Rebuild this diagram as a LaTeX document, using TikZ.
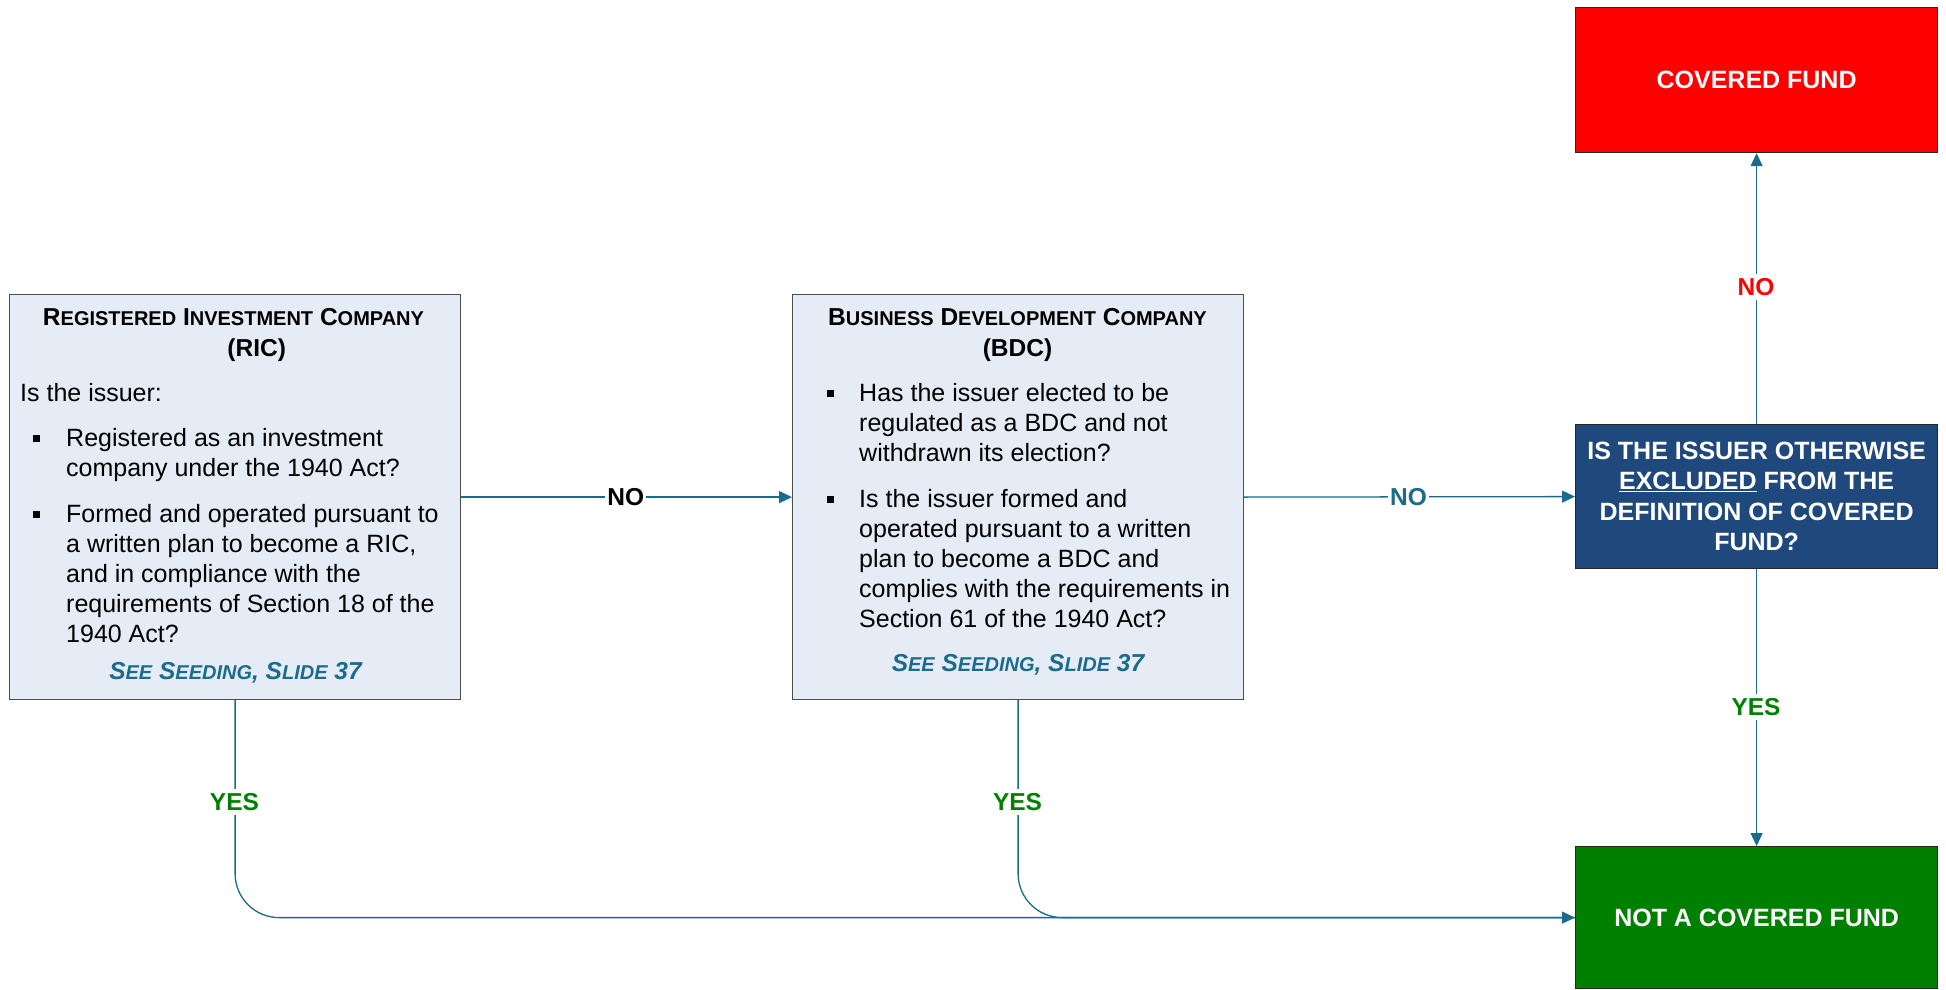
\documentclass[tikz,border=0pt]{standalone}
\usepackage{fontspec}
\setmainfont{Liberation Sans}
\usetikzlibrary{arrows.meta}
\definecolor{tealc}{HTML}{1A6B8C}
\definecolor{boxfill}{HTML}{E5ECF6}
\definecolor{boxline}{HTML}{4D4D4D}
\definecolor{darkblue}{HTML}{1F497D}
\definecolor{okgreen}{HTML}{008000}
\newcommand\fsc[1]{{\fontsize{20}{24}\selectfont #1}}
\tikzset{
  bx/.style={draw=boxline, line width=1.2pt, fill=boxfill, anchor=north west, inner sep=0pt},
  outbox/.style={draw=black!85, line width=1.2pt, anchor=north west, inner sep=0pt, text=white,
    font=\bfseries\fontsize{25}{30.5}\selectfont, align=center},
  txt/.style={anchor=base west, inner sep=0pt, font=\fontsize{25}{30}\selectfont},
  head/.style={anchor=base, inner sep=0pt, font=\bfseries\fontsize{24.5}{30}\selectfont},
  seeref/.style={anchor=base, inner sep=0pt, text=tealc, font=\bfseries\itshape\fontsize{24.5}{30}\selectfont},
  sq/.style={fill=black, minimum size=7pt, inner sep=0pt},
  arr/.style={draw=tealc, line width=1.3pt, -{Triangle[length=13pt,width=12pt]}},
  conn/.style={draw=tealc, line width=1.3pt},
  lbl/.style={fill=white, inner xsep=2pt, inner ysep=4pt, font=\bfseries\fontsize{24.5}{28}\selectfont}
}
\begin{document}
\begin{tikzpicture}[x=1pt,y=-1pt]
\useasboundingbox (0,0) rectangle (1946,990);
\fill[white] (0,0) rectangle (1946,990);

% boxes
\node[bx, minimum width=451pt, minimum height=405pt] (ric) at (9,294) {};
\node[bx, minimum width=451pt, minimum height=405pt] (bdc) at (792,294) {};
\node[outbox, fill=darkblue, minimum width=362pt, minimum height=144pt] (q) at (1575,424)
  {IS THE ISSUER OTHERWISE\\ \underline{EXCLUDED} FROM THE\\ DEFINITION OF COVERED\\ FUND?};
\node[outbox, fill=red, minimum width=362pt, minimum height=145pt] (cov) at (1575,7) {COVERED FUND};
\node[outbox, fill=okgreen, minimum width=362pt, minimum height=142pt] (notc) at (1575,846) {NOT A COVERED FUND};

% RIC text
\node[head] (rh1) at (233.5,325.7) {R\fsc{EGISTERED} I\fsc{NVESTMENT} C\fsc{OMPANY}};
\node[head] (rh2) at (256.7,356.7) {(RIC)};
\node[txt] (r0) at (20,401.7) {Is the issuer:};
\node[sq] (rb1) at (36.5,438.9) {};
\node[txt] (r1) at (66,446.7) {Registered as an investment};
\node[txt] (r2) at (66,476.7) {company under the 1940 Act?};
\node[sq] (rb2) at (36.5,514.9) {};
\node[txt] (r3) at (66,522.7) {Formed and operated pursuant to};
\node[txt] (r4) at (66,552.7) {a written plan to become a RIC,};
\node[txt] (r5) at (66,582.7) {and in compliance with the};
\node[txt] (r6) at (66,612.7) {requirements of Section 18 of the};
\node[txt] (r7) at (66,642.7) {1940 Act?};
\node[seeref] (rs) at (235.5,679.3) {S\fsc{EE} S\fsc{EEDING}, S\fsc{LIDE} 37};

% BDC text
\node[head] (bh1) at (1017.5,325.7) {B\fsc{USINESS} D\fsc{EVELOPMENT} C\fsc{OMPANY}};
\node[head] (bh2) at (1017.5,356.7) {(BDC)};
\node[sq] (bb1) at (830,393.9) {};
\node[txt] (b1) at (859,401.7) {Has the issuer elected to be};
\node[txt] (b2) at (859,431.7) {regulated as a BDC and not};
\node[txt] (b3) at (859,461.7) {withdrawn its election?};
\node[sq] (bb2) at (830,499.9) {};
\node[txt] (b4) at (859,507.7) {Is the issuer formed and};
\node[txt] (b5) at (859,537.7) {operated pursuant to a written};
\node[txt] (b6) at (859,567.7) {plan to become a BDC and};
\node[txt] (b7) at (859,597.7) {complies with the requirements in};
\node[txt] (b8) at (859,627.7) {Section 61 of the 1940 Act?};
\node[seeref] (bs) at (1018,671.7) {S\fsc{EE} S\fsc{EEDING}, S\fsc{LIDE} 37};

% connectors
\draw[arr] (ric.east) -- (bdc.west);
\draw[arr] (bdc.east) -- (q.west);
\draw[arr] (q.north) -- (cov.south);
\draw[arr] (q.south) -- (notc.north);
\draw[conn, rounded corners=44pt] (bdc.south) -- (bdc.south |- notc.west) -- (notc.west);
\draw[arr, rounded corners=44pt] (ric.south) -- (ric.south |- notc.west) -- (notc.west);

% labels
\node[lbl, text=black] (n1) at (625.7,497) {NO};
\node[lbl, text=tealc] (n2) at (1408.6,497) {NO};
\node[lbl, text=red] (n3) at (1756,287) {NO};
\node[lbl, text=okgreen] (y3) at (1756,707) {YES};
\node[lbl, text=okgreen] (y1) at (234.5,802) {YES};
\node[lbl, text=okgreen] (y2) at (1017.5,802) {YES};
\end{tikzpicture}
\end{document}
